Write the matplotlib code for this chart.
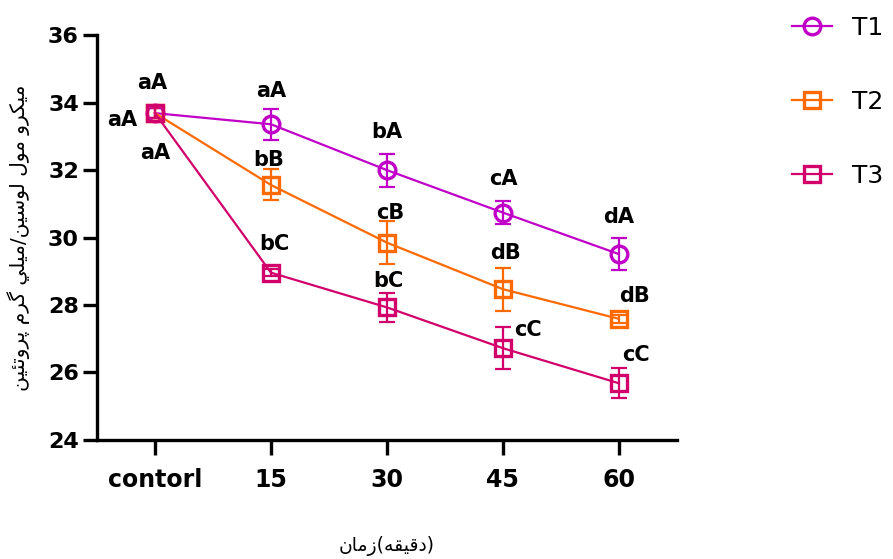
import matplotlib
matplotlib.use("Agg")
import matplotlib.pyplot as plt
from matplotlib.lines import Line2D

# Measured means and error values for the three treatments
categories = ["contorl", "15", "30", "45", "60"]
t1 = [33.69, 33.36, 32.00, 30.74, 29.51]
t1_err = [0.15, 0.46, 0.49, 0.33, 0.47]
t2 = [33.69, 31.56, 29.85, 28.47, 27.59]
t2_err = [0.15, 0.46, 0.64, 0.64, 0.12]
t3 = [33.69, 28.96, 27.93, 26.72, 25.68]
t3_err = [0.15, 0.10, 0.44, 0.62, 0.45]

# Significance letters for each point
t1_letters = ["aA", "aA", "bA", "cA", "dA"]
t2_letters = ["aA", "bB", "cB", "dB", "dB"]
t3_letters = ["aA", "bC", "bC", "cC", "cC"]

y_label = "ميكرو مول لوسين/ميلي گرم پروتئين"
x_label_words = ["زمان", "دقيقه"]

# Arabic presentation forms: isolated, final, initial, medial
FORMS = {
    "ا": ("\uFE8D", "\uFE8E", None, None),
    "ت": ("\uFE95", "\uFE96", "\uFE97", "\uFE98"),
    "ئ": ("\uFE89", "\uFE8A", "\uFE8B", "\uFE8C"),
    "د": ("\uFEA9", "\uFEAA", None, None),
    "ر": ("\uFEAD", "\uFEAE", None, None),
    "ز": ("\uFEAF", "\uFEB0", None, None),
    "س": ("\uFEB1", "\uFEB2", "\uFEB3", "\uFEB4"),
    "ق": ("\uFED5", "\uFED6", "\uFED7", "\uFED8"),
    "ك": ("\uFED9", "\uFEDA", "\uFEDB", "\uFEDC"),
    "ل": ("\uFEDD", "\uFEDE", "\uFEDF", "\uFEE0"),
    "م": ("\uFEE1", "\uFEE2", "\uFEE3", "\uFEE4"),
    "ن": ("\uFEE5", "\uFEE6", "\uFEE7", "\uFEE8"),
    "ه": ("\uFEE9", "\uFEEA", "\uFEEB", "\uFEEC"),
    "و": ("\uFEED", "\uFEEE", None, None),
    "ي": ("\uFEF1", "\uFEF2", "\uFEF3", "\uFEF4"),
    "پ": ("\uFB56", "\uFB57", "\uFB58", "\uFB59"),
    "گ": ("\uFB92", "\uFB93", "\uFB94", "\uFB95"),
}


def rtl(text):
    # join letters and flip to visual order, matplotlib draws left to right
    out = []
    for i, ch in enumerate(text):
        if ch not in FORMS:
            out.append(ch)
            continue
        prev = text[i - 1] if i > 0 else ""
        nxt = text[i + 1] if i + 1 < len(text) else ""
        dual = FORMS[ch][2] is not None
        join_prev = prev in FORMS and FORMS[prev][2] is not None
        join_next = dual and nxt in FORMS
        iso, fin, ini, med = FORMS[ch]
        if join_prev and join_next:
            out.append(med)
        elif join_prev:
            out.append(fin)
        elif join_next:
            out.append(ini)
        else:
            out.append(iso)
    return "".join(out)[::-1]


c1 = "#C000C8"
c2 = "#FF6A00"
c3 = "#D1006B"

fig = plt.figure(figsize=(8.93, 5.59), dpi=100)
ax = fig.add_axes([0.1086, 0.213, 0.6494, 0.724])

x = list(range(len(categories)))
series = [
    (t1, t1_err, c1, "o", "T1"),
    (t2, t2_err, c2, "s", "T2"),
    (t3, t3_err, c3, "s", "T3"),
]
for vals, errs, col, mk, name in series:
    ax.errorbar(x, vals, yerr=errs, fmt="none", ecolor=col, elinewidth=1.6,
                capsize=6, capthick=1.6, zorder=2)
    ax.plot(x, vals, color=col, lw=1.6, marker=mk, markersize=12,
            markerfacecolor="none", markeredgecolor=col, markeredgewidth=2.4,
            label=name, zorder=3)

# letter positions relative to each point, in pixels
t1_off = [(-3, 30), (0, 33), (0, 38), (0, 34), (0, 37)]
t2_off = [(-33, -7), (-2, 25), (3, 30), (3, 36), (16, 23)]
t3_off = [(0, -40), (3, 29), (1, 26), (25, 18), (17, 28)]
for vals, letters, offs in [(t1, t1_letters, t1_off),
                            (t2, t2_letters, t2_off),
                            (t3, t3_letters, t3_off)]:
    for i, (v, lab, off) in enumerate(zip(vals, letters, offs)):
        ax.annotate(lab, xy=(i, v), xytext=off, textcoords="offset pixels",
                    ha="center", va="center", fontsize=15,
                    fontweight="bold", family="DejaVu Sans", zorder=5)

ax.set_xlim(-0.5, 4.5)
ax.set_ylim(24, 36)
ax.set_yticks(range(24, 37, 2))
ax.set_xticks(x)
ax.set_xticklabels(categories)

for side in ["top", "right"]:
    ax.spines[side].set_visible(False)
for side in ["left", "bottom"]:
    ax.spines[side].set_linewidth(2.4)
ax.tick_params(axis="y", width=2.4, length=10, pad=3, labelsize=16)
ax.tick_params(axis="x", width=2.4, length=11, pad=9, labelsize=17)
for lab in ax.get_xticklabels() + ax.get_yticklabels():
    lab.set_fontweight("bold")

ax.set_ylabel(rtl(y_label), fontsize=14.5, family="DejaVu Sans", labelpad=13)
ax.set_xlabel(rtl(x_label_words[0]) + "(" + rtl(x_label_words[1]) + ")",
              fontsize=13.5, family="DejaVu Sans", labelpad=32)

handles = [Line2D([0], [0], color=col, lw=1.6, marker=mk, markersize=12,
                  markerfacecolor="none", markeredgewidth=2.4)
           for _, _, col, mk, _ in series]
fig.legend(handles, [s[4] for s in series], loc="upper left",
           bbox_to_anchor=(0.862, 1.012), frameon=False, fontsize=18,
           handlelength=1.6, handletextpad=0.8, labelspacing=2.0)

fig.savefig("out.png", dpi=100)
